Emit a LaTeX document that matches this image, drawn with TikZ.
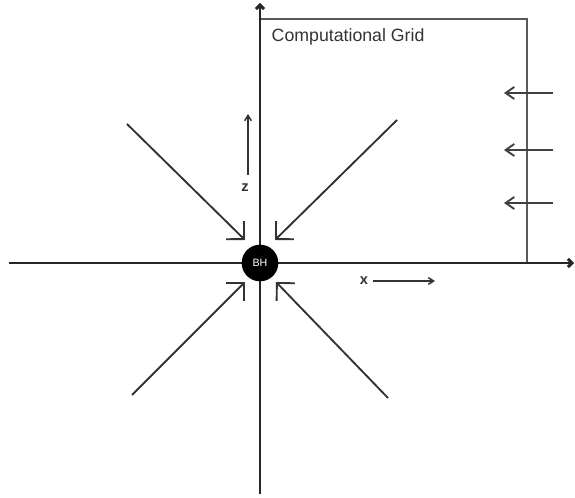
\documentclass[tikz,border=0pt]{standalone}
\usepackage{fontspec}
\setmainfont{Liberation Sans}
\usetikzlibrary{arrows.meta}
\tikzset{
  axis/.style={line width=2.2pt,black!85,-{Straight Barb[length=3pt,width=6pt]}},
  gridline/.style={line width=1.4pt,black!65},
  inflow/.style={line width=1.4pt,black!80,-{Straight Barb[length=9.5pt,width=19pt]}},
  wind/.style={line width=1.4pt,black!75,-{Straight Barb[length=6.5pt,width=9pt]}},
  dirarr/.style={line width=1.1pt,black!80,-{Straight Barb[length=4pt,width=5pt]}},
  lbl/.style={font=\bfseries\fontsize{11}{13}\selectfont,text=black!80}
}

\begin{document}
\begin{tikzpicture}[x=0.75pt,y=-0.75pt]
\useasboundingbox (0,0) rectangle (575,498);
% axes and grid
\coordinate (zbot) at (260,494);
\coordinate (ztop) at (260,3);
\coordinate (xleft) at (9,263);
\coordinate (xright) at (574,263);
\coordinate (gtl) at (260,19);
\coordinate (gtr) at (527,19);
\coordinate (gbr) at (527,263);
\draw[gridline] (gtl) -- (gtr) -- (gbr);
\draw[axis] (zbot) -- (ztop);
\draw[axis] (xleft) -- (xright);
\node[anchor=west,font=\fontsize{13.3}{15}\selectfont,text=black!80] (grid) at (267,37) {Computational Grid};

% black hole
\node[circle,fill=black,minimum size=27.5pt,inner sep=0pt,text=white,font=\fontsize{8}{9}\selectfont] (bh) at (260,263) {BH};

% infall
\coordinate (ul) at (127,124);  \coordinate (ult) at (245,240);
\coordinate (ur) at (397,120);  \coordinate (urt) at (275,240);
\coordinate (ll) at (132,395);  \coordinate (llt) at (245,282);
\coordinate (lr) at (388,398);  \coordinate (lrt) at (276,282);
\draw[inflow] (ul) -- (ult);
\draw[inflow] (ur) -- (urt);
\draw[inflow] (ll) -- (llt);
\draw[inflow] (lr) -- (lrt);

% inflow at the grid edge
\foreach \y [count=\i] in {93,150,203}{
  \coordinate (w\i) at (553,\y);
  \coordinate (wt\i) at (504,\y);
  \draw[wind] (w\i) -- (wt\i);
}

% direction labels
\node[lbl] (zlbl) at (245,188) {z};
\coordinate (zs) at (248,175); \coordinate (ze) at (248,114);
\draw[dirarr] (zs) -- (ze);
\node[lbl] (xlbl) at (364,281) {x};
\coordinate (xs) at (373,281); \coordinate (xe) at (435,281);
\draw[dirarr] (xs) -- (xe);
\end{tikzpicture}
\end{document}
